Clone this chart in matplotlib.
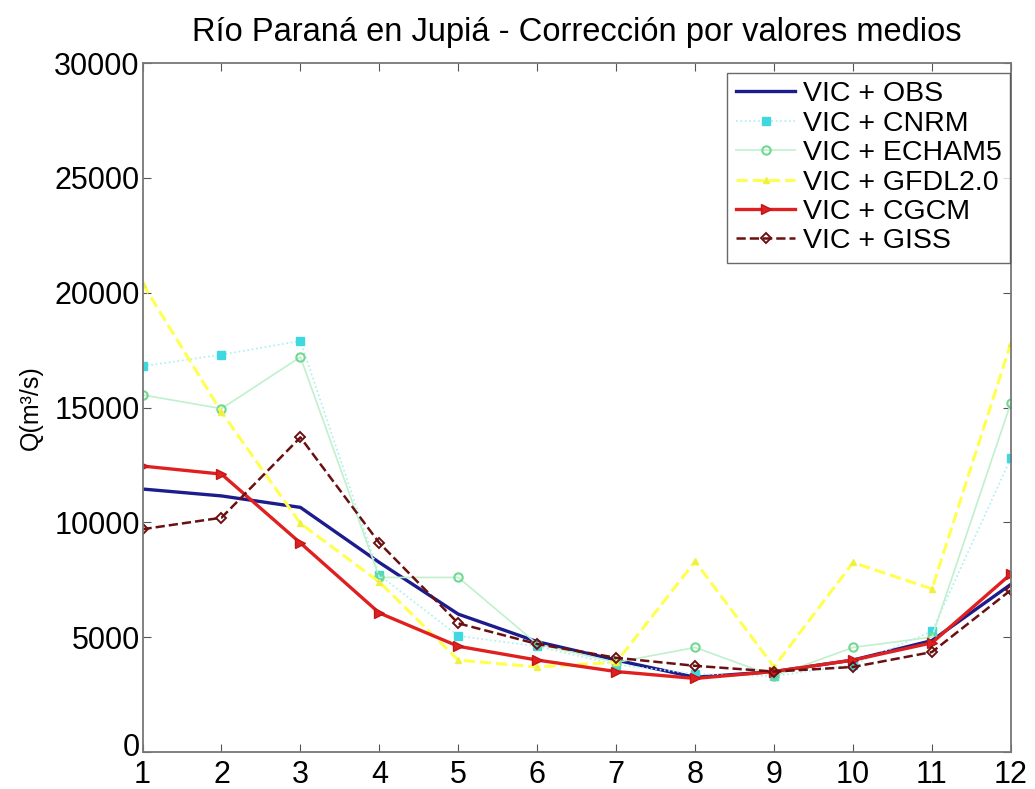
import matplotlib
matplotlib.use("Agg")
import matplotlib.pyplot as plt
import matplotlib.transforms as mtransforms

plt.rcParams['font.family'] = ['Liberation Sans', 'DejaVu Sans']

months = list(range(1, 13))
obs   = [11450, 11150, 10650, 8250, 6000, 4800, 4000, 3250, 3500, 4000, 4850, 7300]
cnrm  = [16800, 17300, 17900, 7700, 5050, 4600, 3800, 3400, 3300, 3800, 5250, 12800]
echam = [15550, 14950, 17200, 7600, 7600, 4700, 3900, 4550, 3300, 4550, 5000, 15200]
gfdl  = [20400, 14800, 9950, 7400, 4000, 3700, 3900, 8300, 3700, 8250, 7100, 17800]
cgcm  = [12450, 12100, 9100, 6050, 4600, 4000, 3500, 3200, 3500, 4000, 4750, 7750]
giss  = [9700, 10200, 13700, 9100, 5600, 4700, 4100, 3750, 3500, 3700, 4350, 7050]

labels = ['VIC + OBS', 'VIC + CNRM', 'VIC + ECHAM5', 'VIC + GFDL2.0', 'VIC + CGCM', 'VIC + GISS']
yticks = [0, 5000, 10000, 15000, 20000, 25000, 30000]

fig = plt.figure(figsize=(10.35, 7.89), dpi=100)
ax = fig.add_axes([0.1377, 0.047, 0.839, 0.873])

ax.plot(months, obs, color='#1c1c8c', lw=2.4, label=labels[0])
ax.plot(months, cnrm, color='#a8f0f0', lw=1.2, ls=':', marker='s', ms=6,
        mfc='#40d8e0', mec='#40d8e0', label=labels[1])
ax.plot(months, echam, color='#c0f0cc', lw=1.2, ls='-', marker='o', ms=6,
        mfc='none', mec='#70d890', mew=1.5, label=labels[2])
ax.plot(months, gfdl, color='#ffff50', lw=2.2, ls='--', marker='^', ms=5,
        mfc='#f0f040', mec='#f0f040', label=labels[3])
ax.plot(months, cgcm, color='#e02020', lw=2.4, marker='>', ms=7,
        mfc='#e02020', mec='#c01818', label=labels[4])
ax.plot(months, giss, color='#6a1010', lw=1.8, ls='--', marker='D', ms=5,
        mfc='none', mec='#6a1010', mew=1.4, label=labels[5])

ax.set_xlim(1, 12)
ax.set_ylim(0, 30000)
ax.set_xticks(months)
ax.set_yticks(yticks)
ax.tick_params(direction='in', top=True, right=True, labelsize=22, length=6, color='#555555')
ax.tick_params(axis='x', pad=6)
ax.tick_params(axis='y', pad=2)
for s in ax.spines.values():
    s.set_color('#777777')
    s.set_linewidth(1.3)

# nudge the "0" label up slightly so it does not touch the "1" below it
zero_lbl = ax.yaxis.get_major_ticks()[0].label1
zero_lbl.set_transform(zero_lbl.get_transform() +
                       mtransforms.ScaledTranslation(0, 5 / 72, fig.dpi_scale_trans))

ax.set_title('Río Paraná en Jupiá - Corrección por valores medios', fontsize=23.5, pad=16)
ax.set_ylabel('Q(m³/s)', fontsize=18, labelpad=8)

leg = ax.legend(loc='upper right', bbox_to_anchor=(0.999, 0.986), fontsize=20.5,
                frameon=True, fancybox=False, edgecolor='#444444',
                handlelength=2.1, borderaxespad=0.0, borderpad=0.3,
                labelspacing=0.12, handletextpad=0.25)
leg.get_frame().set_linewidth(1.0)

fig.savefig('out.png', dpi=100)
